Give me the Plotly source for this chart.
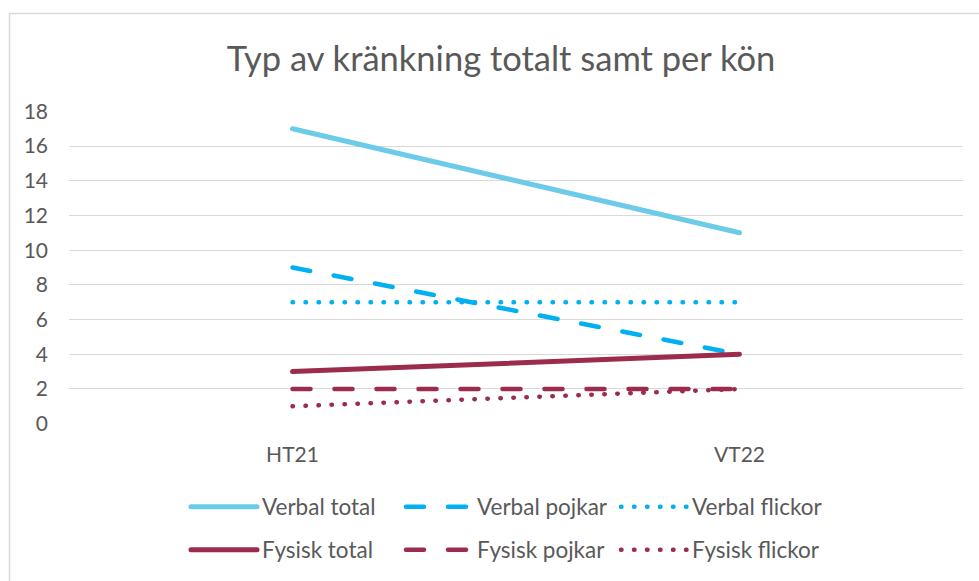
import plotly.graph_objects as go

categories = ["HT21", "VT22"]
verbal_total = [17, 11]
verbal_pojkar = [9, 4]
verbal_flickor = [7, 7]
fysisk_total = [3, 4]
fysisk_pojkar = [2, 2]
fysisk_flickor = [1, 2]
y_ticks = [0, 2, 4, 6, 8, 10, 12, 14, 16, 18]

W, H = 979, 581
L, R, T, B = 69, 16, 111, 157
PW, PH = W - L - R, H - T - B

LIGHT = "#6DCBEA"
BLUE = "#00B0F0"
RED = "#9B2C4C"
TXT = "#595959"
FONT = "Lato, Carlito, Calibri, sans-serif"

DASH = "18px,24px"
DOT = "0.5px,12.5px"

series = [
    ("Verbal total", verbal_total, LIGHT, "solid", 5, "legend"),
    ("Verbal pojkar", verbal_pojkar, BLUE, DASH, 4.5, "legend2"),
    ("Verbal flickor", verbal_flickor, BLUE, DOT, 4.5, "legend3"),
    ("Fysisk total", fysisk_total, RED, "solid", 5, "legend4"),
    ("Fysisk pojkar", fysisk_pojkar, RED, DASH, 4.5, "legend5"),
    ("Fysisk flickor", fysisk_flickor, RED, DOT, 4.5, "legend6"),
]

fig = go.Figure()
for name, vals, col, dash, w, lg in series:
    fig.add_trace(go.Scatter(x=categories, y=vals, name=name, mode="lines",
                             line=dict(color=col, dash=dash, width=w),
                             legend=lg, hoverinfo="skip"))

# legend placement (container pixels): x = legend box left, y = row centre
leg_pos = {
    "legend": (186, 507), "legend2": (401, 507), "legend3": (616, 507),
    "legend4": (186, 550), "legend5": (401, 550), "legend6": (616, 550),
}
legends = {}
for k, (px, py) in leg_pos.items():
    legends[k] = dict(x=px / W, y=1 - py / H, xref="container", yref="container",
                      xanchor="left", yanchor="middle", orientation="h",
                      font=dict(family=FONT, size=22.5, color=TXT),
                      bgcolor="rgba(0,0,0,0)", itemwidth=66)

fig.update_layout(
    width=W, height=H,
    margin=dict(l=L, r=R, t=T, b=B, pad=0),
    paper_bgcolor="white", plot_bgcolor="white",
    title=dict(text="Typ av kränkning totalt samt per kön", x=501 / W, xanchor="center",
               y=1 - 59 / H, yanchor="middle", yref="container", xref="container",
               font=dict(family=FONT, size=34.5, color=TXT)),
    xaxis=dict(type="category", range=[-0.5, 1.5], showgrid=False, zeroline=False,
               showline=False, ticks="", tickfont=dict(family=FONT, size=21, color=TXT),
               ticklabelstandoff=16),
    yaxis=dict(range=[-0.02, 18.02], tickvals=y_ticks, showgrid=True, gridcolor="#D9D9D9",
               gridwidth=1.3, zeroline=False, showline=False, ticks="",
               tickfont=dict(family=FONT, size=21, color=TXT), ticklabelstandoff=20),
    shapes=[dict(type="rect", xref="paper", yref="paper",
                 x0=(9.5 - L) / PW, x1=(1000 - L) / PW,
                 y0=(H - B - 620) / PH, y1=(H - B - 13.5) / PH,
                 line=dict(color="#D9D9D9", width=1.5), layer="below")],
    showlegend=True,
    **legends,
)

post = """
var st = document.createElement('style');
st.innerHTML = 'html,body{margin:0!important;padding:0!important;overflow:hidden;}' +
  ' path.js-line{stroke-linecap:round!important;}';
document.head.appendChild(st);
"""
fig.write_html("out.html", post_script=post, config={"displayModeBar": False})
